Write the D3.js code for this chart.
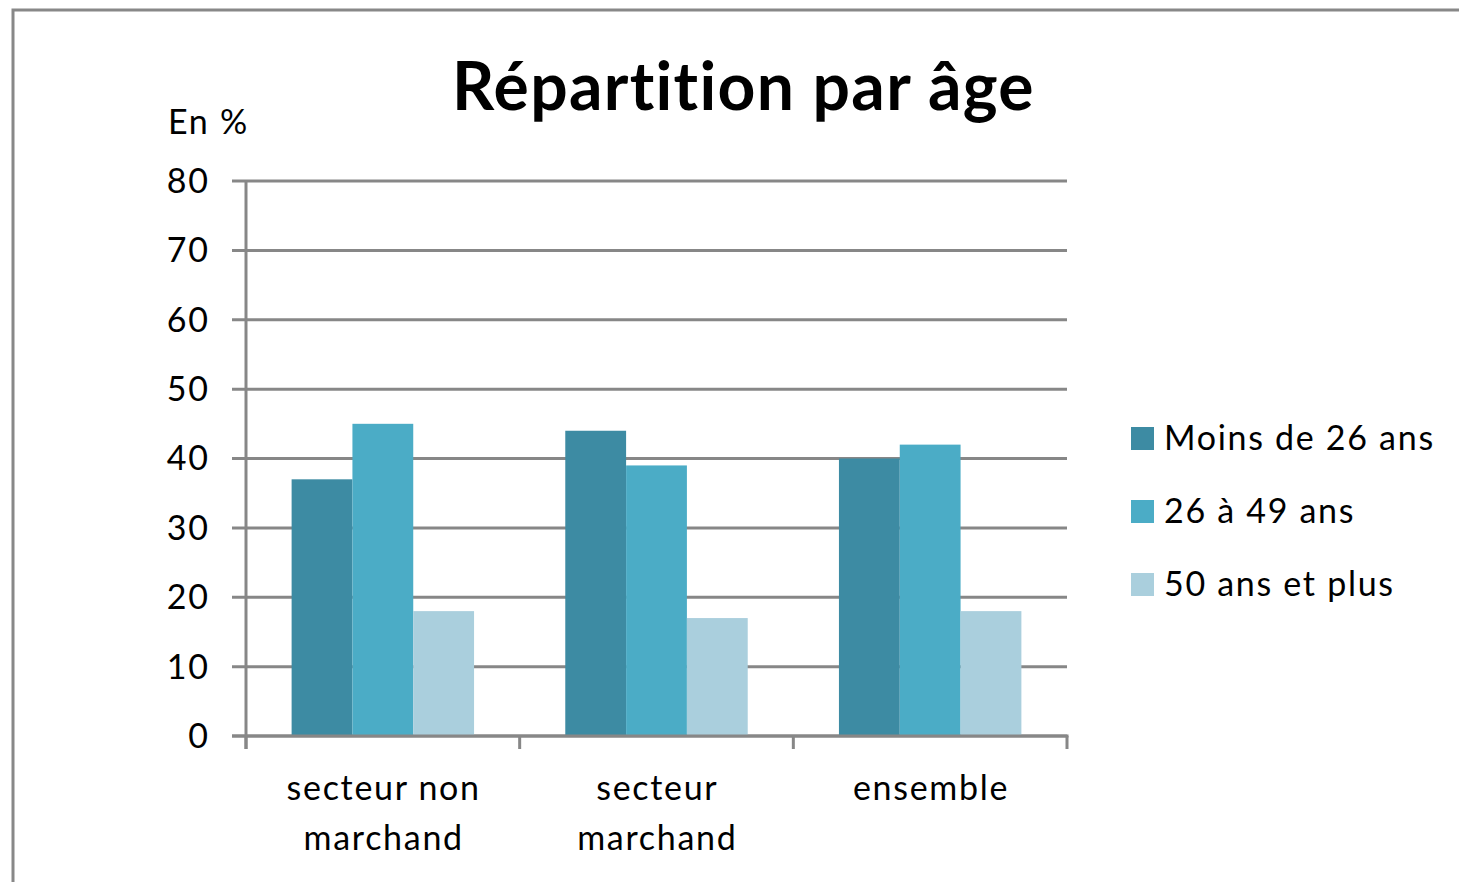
<!DOCTYPE html>
<html><head><meta charset="utf-8">
<script src="https://cdn.jsdelivr.net/npm/d3@7"></script>
<style>html,body{margin:0;padding:0;background:#fff;}svg{display:block;}</style>
</head><body>
<svg id="c" width="1459" height="882"></svg>
<script>
const categories = [["secteur non","marchand"],["secteur","marchand"],["ensemble"]];
const categoryKeys = ["secteur non marchand","secteur marchand","ensemble"];
const seriesNames = ["Moins de 26 ans","26 à 49 ans","50 ans et plus"];
const moins26 = [37, 44, 40];
const de26a49 = [45, 39, 42];
const plus50 = [18, 17, 18];
const yTicks = [0,10,20,30,40,50,60,70,80];
const colors = ["#3D8BA3","#4BACC6","#AACFDD"];

(function(){
const seriesValues = [moins26, de26a49, plus50];
const svg = d3.select("#c");
const font = "Lato, 'Open Sans', sans-serif";
const grid = "#878787";
const fs = 34, ls = 1.7;

svg.append("rect").attr("x",13).attr("y",10).attr("width",1500).attr("height",900)
  .attr("fill","none").attr("stroke","#888").attr("stroke-width",3);

const pl=246, pr=1067, pt=181, pb=736;
const x = d3.scaleBand().domain(categoryKeys).range([pl,pr]);
const y = d3.scaleLinear().domain([0,80]).range([pb,pt]);
const w = x.bandwidth()/4.5;
const xsub = d3.scaleBand().domain(d3.range(3)).range([0.75*w, 3.75*w]);

svg.append("g").selectAll("line").data(yTicks).join("line")
  .attr("x1",232).attr("x2",pr).attr("y1",d=>y(d)).attr("y2",d=>y(d))
  .attr("stroke",grid).attr("stroke-width",3);

seriesValues.forEach((vals,si)=>{
  svg.append("g").selectAll("rect").data(vals).join("rect")
    .attr("x",(d,i)=>x(categoryKeys[i])+xsub(si))
    .attr("width",xsub.bandwidth())
    .attr("y",d=>y(d)).attr("height",d=>pb-y(d))
    .attr("fill",colors[si]);
});

svg.append("line").attr("x1",pl).attr("x2",pl).attr("y1",pt).attr("y2",749)
  .attr("stroke",grid).attr("stroke-width",3);
svg.append("line").attr("x1",232).attr("x2",pr+1.5).attr("y1",pb).attr("y2",pb)
  .attr("stroke",grid).attr("stroke-width",3);
const xt = categoryKeys.map(k=>x(k)).concat([pr]);
svg.append("g").selectAll("line").data(xt).join("line")
  .attr("x1",d=>d).attr("x2",d=>d).attr("y1",pb).attr("y2",749)
  .attr("stroke",grid).attr("stroke-width",3);

svg.append("g").selectAll("text").data(yTicks).join("text")
  .attr("x",208+ls).attr("y",d=>y(d)).attr("dy","0.35em")
  .attr("text-anchor","end").attr("font-family",font).attr("font-size",fs)
  .attr("letter-spacing",ls).attr("fill","#000")
  .text(d=>d);

svg.append("text").attr("x",168).attr("y",134).attr("font-family",font).attr("font-size",fs)
  .attr("letter-spacing",ls).text("En %");

categories.forEach((lines,i)=>{
  const cx = x(categoryKeys[i]) + x.bandwidth()/2 + ls/2;
  lines.forEach((t,j)=>{
    svg.append("text").attr("x",cx).attr("y",800+j*50).attr("text-anchor","middle")
      .attr("font-family",font).attr("font-size",fs).attr("letter-spacing",ls).text(t);
  });
});

svg.append("text").attr("x",743.5).attr("y",110).attr("text-anchor","middle")
  .attr("font-family",font).attr("font-weight","bold").attr("font-size",66)
  .attr("letter-spacing",1.3).text("Répartition par âge");

seriesNames.forEach((n,i)=>{
  const ly = 438 + i*73;
  svg.append("rect").attr("x",1131).attr("y",ly-11).attr("width",23).attr("height",23).attr("fill",colors[i]);
  svg.append("text").attr("x",1164).attr("y",ly).attr("dy","0.35em").attr("font-family",font)
    .attr("font-size",fs).attr("letter-spacing",ls).text(n);
});
})();
</script>
</body></html>
